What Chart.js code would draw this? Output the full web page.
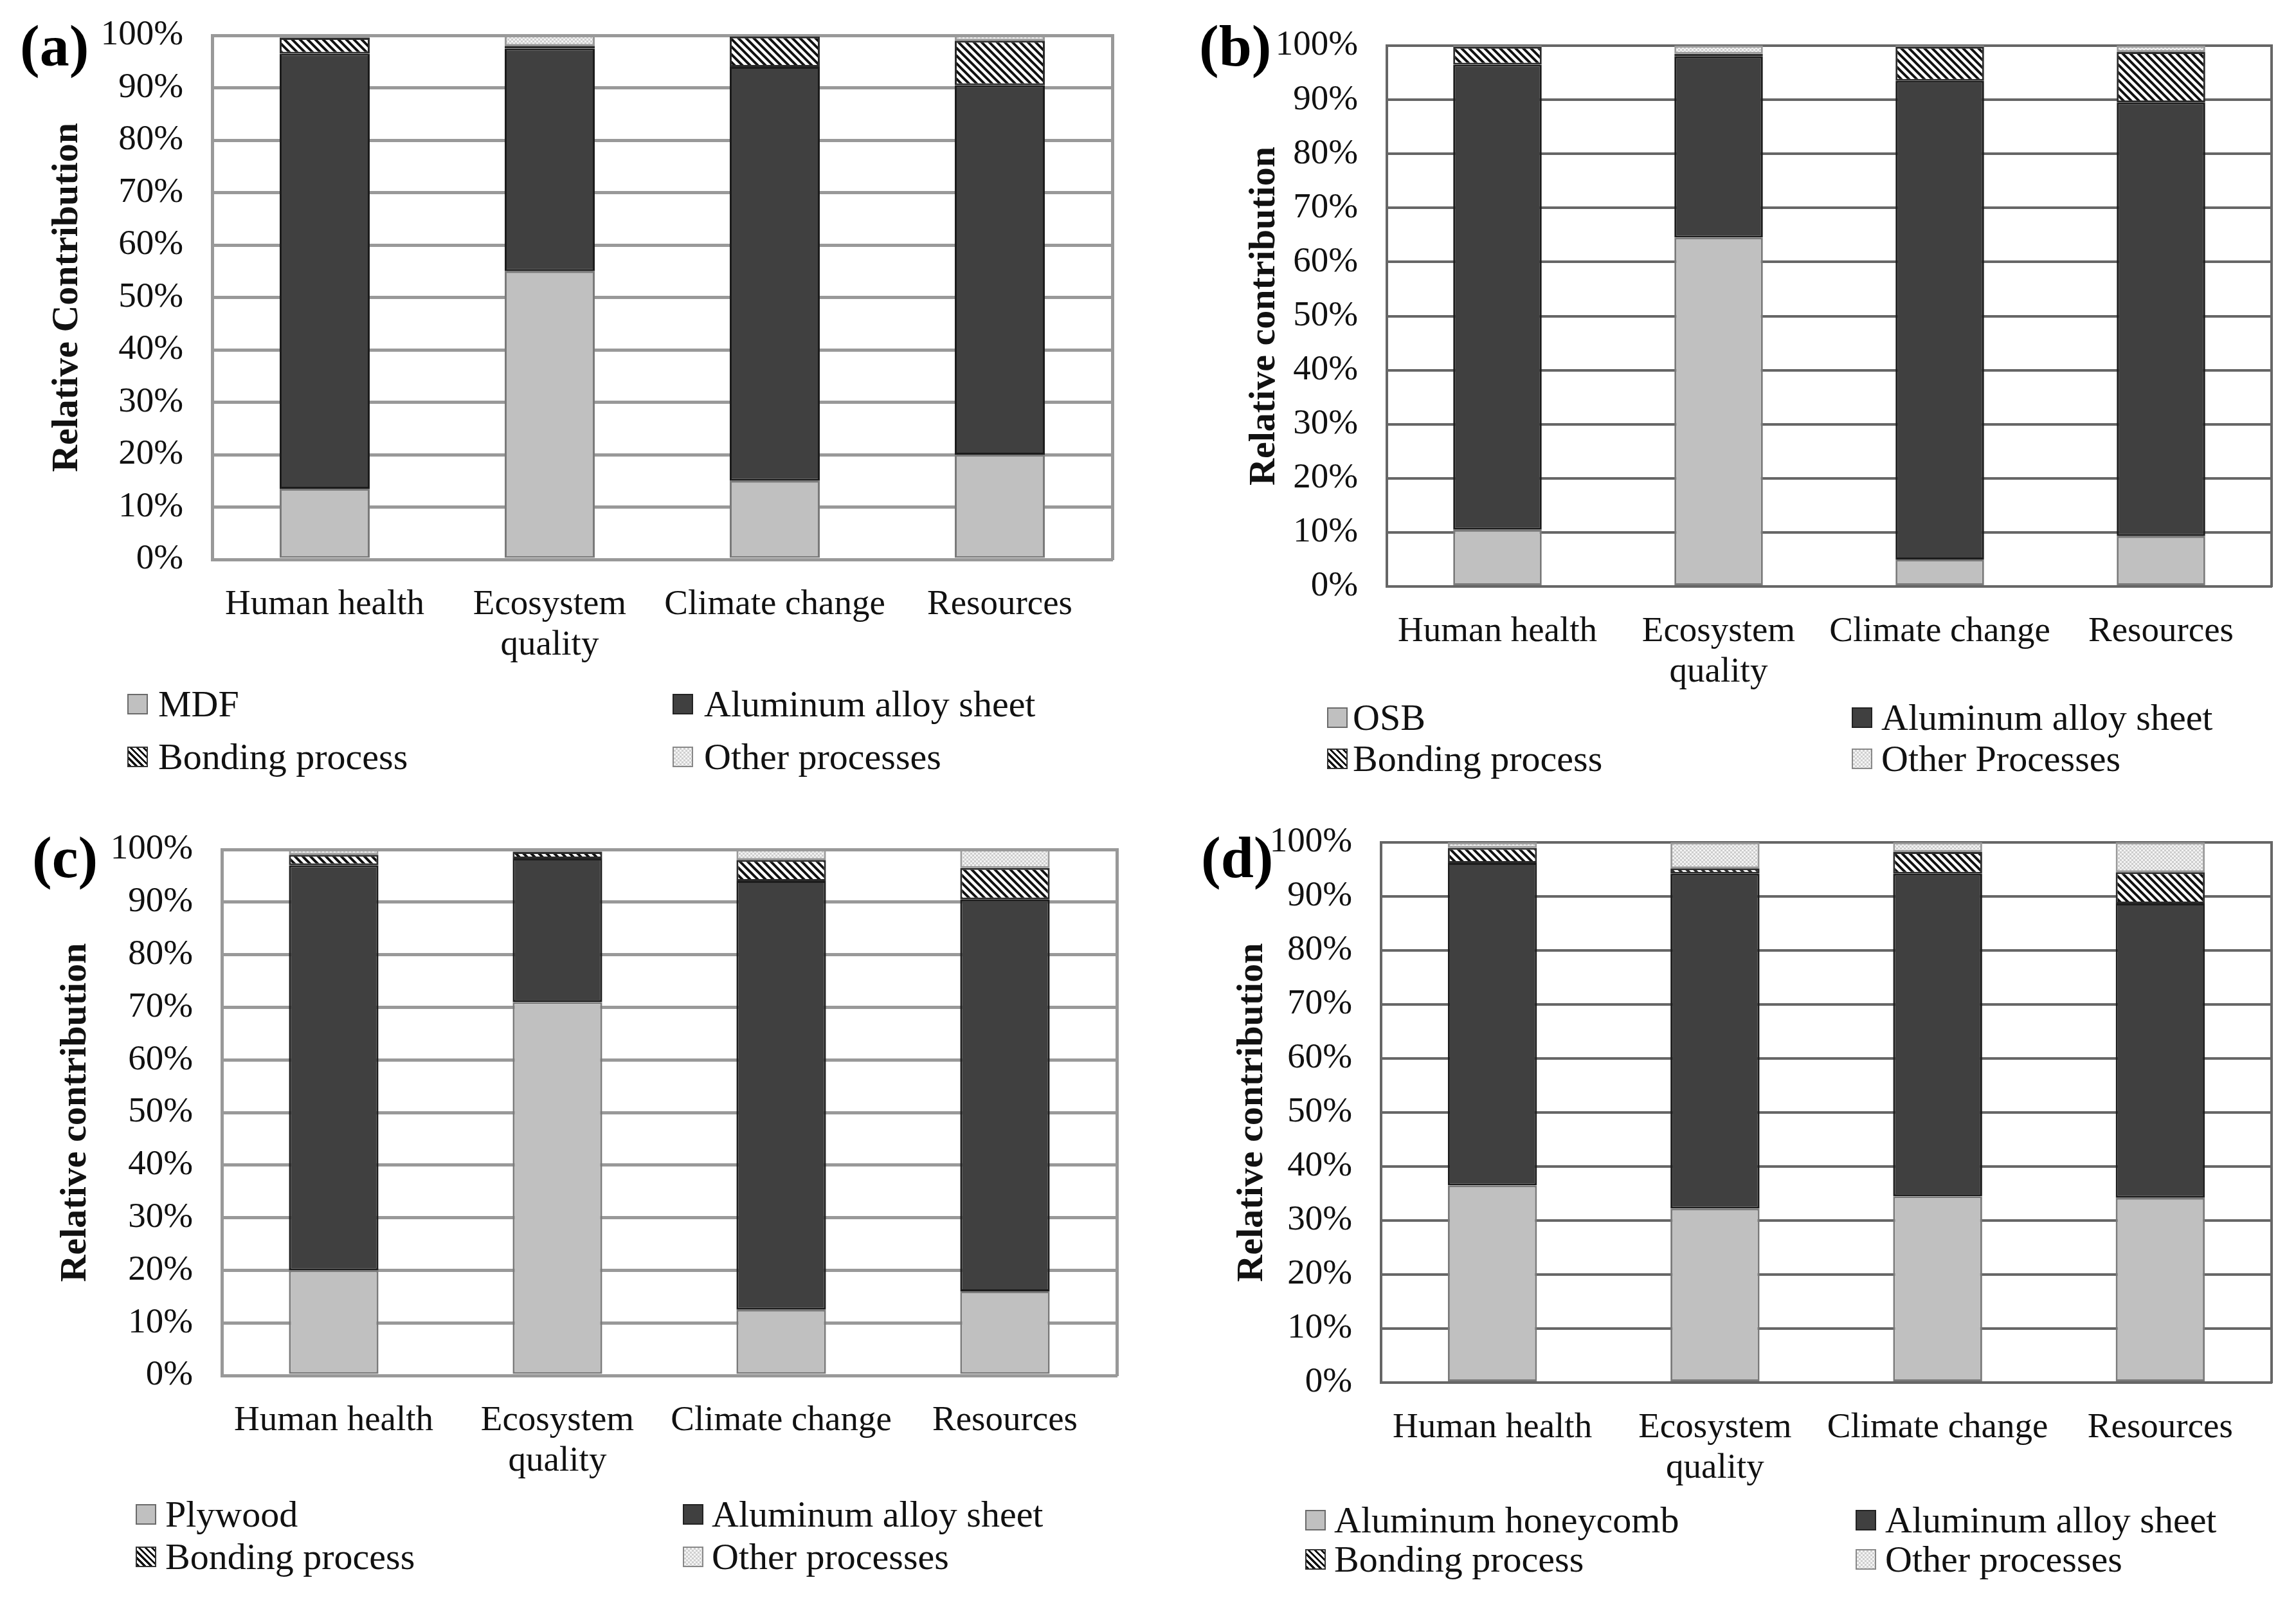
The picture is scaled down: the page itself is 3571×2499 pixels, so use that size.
<!DOCTYPE html>
<html><head><meta charset="utf-8">
<script src="https://cdn.jsdelivr.net/npm/chart.js@4.4.0/dist/chart.umd.min.js"></script>
<style>
html,body{margin:0;padding:0;background:#fff;}
body{width:3571px;height:2499px;position:relative;overflow:hidden;font-family:"Liberation Serif","Times New Roman",serif;color:#111;}
canvas{position:absolute;}
.plabel{position:absolute;font-weight:bold;font-size:92px;line-height:92px;color:#000;}
.leg{position:absolute;display:flex;align-items:center;font-size:58px;line-height:66px;height:66px;white-space:nowrap;color:#111;}
.sw{width:32px;height:32px;border:2px solid #6a6a6a;box-sizing:border-box;flex:none;}
.sw.wood{background:#c0c0c0;}
.sw.alu{background:#404040;border-color:#222;}
.sw.bond{background:repeating-linear-gradient(45deg,#111 0 3px,#fff 3px 7px);border-color:#333;}
.sw.other{background-color:#f0f0f0;background-image:repeating-conic-gradient(#cfcfcf 0 25%,#f4f4f4 0 50%);background-size:6px 6px;border-color:#888;}
</style>
</head><body>
<script>
// ---------- DATA ----------
const categories = ['Human health', ['Ecosystem', 'quality'], 'Climate change', 'Resources'];
const yTickStep = 10;

// Panel (a)
const a_names = ['MDF', 'Aluminum alloy sheet', 'Bonding process', 'Other processes'];
const a_wood  = [13.5, 55.0, 15.0, 20.0];
const a_alu   = [83.0, 42.5, 79.0, 70.5];
const a_bond  = [3.0, 0.5, 5.8, 8.5];
const a_other = [0.5, 2.0, 0.2, 1.0];

// Panel (b)
const b_names = ['OSB', 'Aluminum alloy sheet', 'Bonding process', 'Other Processes'];
const b_wood  = [10.5, 64.5, 5.0, 9.3];
const b_alu   = [86.0, 33.5, 88.5, 80.2];
const b_bond  = [3.3, 0.5, 6.3, 9.3];
const b_other = [0.2, 1.5, 0.2, 1.2];

// Panel (c)
const c_names = ['Plywood', 'Aluminum alloy sheet', 'Bonding process', 'Other processes'];
const c_wood  = [20.0, 71.0, 12.5, 16.0];
const c_alu   = [77.0, 27.3, 81.5, 74.5];
const c_bond  = [2.0, 1.2, 4.0, 6.0];
const c_other = [1.0, 0.5, 2.0, 3.5];

// Panel (d)
const d_names = ['Aluminum honeycomb', 'Aluminum alloy sheet', 'Bonding process', 'Other processes'];
const d_wood  = [36.5, 32.2, 34.5, 34.2];
const d_alu   = [59.7, 62.0, 59.7, 54.5];
const d_bond  = [2.8, 1.0, 4.0, 5.8];
const d_other = [1.0, 4.8, 1.8, 5.5];

const panelLetters = ['(a)', '(b)', '(c)', '(d)'];
const yTitles = ['Relative Contribution', 'Relative contribution', 'Relative contribution', 'Relative contribution'];

// ---------- PATTERNS ----------
function hatchPattern() {
  const s = 12, c = document.createElement('canvas'); c.width = s; c.height = s;
  const g = c.getContext('2d');
  g.fillStyle = '#fff'; g.fillRect(0, 0, s, s);
  g.strokeStyle = '#111'; g.lineWidth = 4;
  g.beginPath();
  g.moveTo(-s, -s); g.lineTo(2 * s, 2 * s);
  g.moveTo(-s, 0); g.lineTo(s, 2 * s);
  g.moveTo(0, -s); g.lineTo(2 * s, s);
  g.stroke();
  return g.createPattern(c, 'repeat');
}
function dotPattern() {
  const s = 6, c = document.createElement('canvas'); c.width = s; c.height = s;
  const g = c.getContext('2d');
  g.fillStyle = '#f3f3f3'; g.fillRect(0, 0, s, s);
  g.fillStyle = '#cdcdcd'; g.fillRect(0, 0, 3, 3); g.fillRect(3, 3, 3, 3);
  return g.createPattern(c, 'repeat');
}

// ---------- LAYOUT ----------
const panels = [
  {names: a_names, data: [a_wood, a_alu, a_bond, a_other],
   cx: 0, cw: 1785, plot: {l: 330, t: 55, r: 1730, b: 870}, titleX: 105,
   grid: '#999999', gw: 5, letter: {x: 31, y: 25},
   leg: {c1: 198, t1: 246, c2: 1046, t2: 1095, r1: 1095, r2: 1177}},
  {names: b_names, data: [b_wood, b_alu, b_bond, b_other],
   cx: 1785, cw: 1786, plot: {l: 2157, t: 71, r: 3533, b: 912}, titleX: 1967,
   grid: '#666666', gw: 4, letter: {x: 1865, y: 25},
   leg: {c1: 2064, t1: 2104, c2: 2880, t2: 2926, r1: 1116, r2: 1180}},
  {names: c_names, data: [c_wood, c_alu, c_bond, c_other],
   cx: 0, cw: 1785, plot: {l: 345, t: 1321, r: 1737, b: 2139}, titleX: 118,
   grid: '#999999', gw: 5, letter: {x: 50, y: 1287},
   leg: {c1: 211, t1: 257, c2: 1062, t2: 1107, r1: 2355, r2: 2421}},
  {names: d_names, data: [d_wood, d_alu, d_bond, d_other],
   cx: 1785, cw: 1786, plot: {l: 2148, t: 1310, r: 3533, b: 2150}, titleX: 1948,
   grid: '#666666', gw: 4, letter: {x: 1868, y: 1287},
   leg: {c1: 2030, t1: 2075, c2: 2886, t2: 2932, r1: 2364, r2: 2425}}
];

const FONT = '"Liberation Serif", "Times New Roman", serif';
const swClasses = ['wood', 'alu', 'bond', 'other'];

panels.forEach((p, i) => {
  const topRoom = 100, xHeight = 200, botRoom = 30;
  const cy = p.plot.t - topRoom;
  const ch = p.plot.b + xHeight + botRoom - cy;
  const cv = document.createElement('canvas');
  cv.width = p.cw; cv.height = ch;
  cv.style.left = p.cx + 'px'; cv.style.top = cy + 'px';
  cv.style.width = p.cw + 'px'; cv.style.height = ch + 'px';
  document.body.appendChild(cv);

  const titleFont = 58, titleLH = 1.2;
  const padLeft = p.titleX - titleFont * titleLH / 2 - p.cx;
  const yWidth = p.plot.l - p.cx - padLeft;
  const padRight = p.cx + p.cw - p.plot.r;

  const fills = ['#c0c0c0', '#404040', hatchPattern(), dotPattern()];
  const borders = ['#7a7a7a', '#1c1c1c', '#2a2a2a', '#9a9a9a'];

  new Chart(cv, {
    type: 'bar',
    data: {
      labels: categories,
      datasets: p.data.map((vals, k) => ({
        label: p.names[k], data: vals,
        backgroundColor: fills[k], borderColor: borders[k], borderWidth: 3,
        barPercentage: 0.4, categoryPercentage: 1.0, borderSkipped: false
      }))
    },
    options: {
      responsive: false, animation: false, devicePixelRatio: 1,
      layout: {padding: {left: padLeft, top: topRoom, right: padRight, bottom: botRoom}},
      plugins: {legend: {display: false}, tooltip: {enabled: false}},
      scales: {
        x: {
          stacked: true,
          grid: {display: false},
          border: {display: true, color: p.grid, width: p.gw},
          ticks: {color: '#111', padding: 31, maxRotation: 0, autoSkip: false,
                  font: {family: FONT, size: 55, lineHeight: 1.15}},
          afterFit: s => { s.height = xHeight; }
        },
        y: {
          stacked: true, min: 0, max: 100,
          grid: {color: p.grid, lineWidth: p.gw, drawTicks: false},
          border: {display: true, color: p.grid, width: p.gw},
          ticks: {stepSize: yTickStep, color: '#111', padding: 45,
                  font: {family: FONT, size: 55}, callback: v => v + '%'},
          title: {display: true, text: yTitles[i], color: '#111', padding: 0,
                  font: {family: FONT, size: titleFont, weight: 'bold', lineHeight: titleLH}},
          afterFit: s => { s.width = yWidth; }
        },
        yr: {
          position: 'right', min: 0, max: 100,
          grid: {display: false},
          border: {display: true, color: p.grid, width: p.gw},
          ticks: {display: false},
          afterFit: s => { s.width = 0; }
        }
      }
    }
  });

  // panel letter
  const L = document.createElement('div');
  L.className = 'plabel'; L.textContent = panelLetters[i];
  L.style.left = p.letter.x + 'px'; L.style.top = p.letter.y + 'px';
  document.body.appendChild(L);

  // legend (2 x 2)
  const pos = [
    {bx: p.leg.c1, tx: p.leg.t1, ry: p.leg.r1},
    {bx: p.leg.c2, tx: p.leg.t2, ry: p.leg.r1},
    {bx: p.leg.c1, tx: p.leg.t1, ry: p.leg.r2},
    {bx: p.leg.c2, tx: p.leg.t2, ry: p.leg.r2}
  ];
  p.names.forEach((nm, k) => {
    const it = document.createElement('div');
    it.className = 'leg';
    it.style.left = pos[k].bx + 'px'; it.style.top = (pos[k].ry - 33) + 'px';
    const sw = document.createElement('span');
    sw.className = 'sw ' + swClasses[k];
    sw.style.marginRight = (pos[k].tx - pos[k].bx - 32) + 'px';
    const tx = document.createElement('span'); tx.textContent = nm;
    it.appendChild(sw); it.appendChild(tx);
    document.body.appendChild(it);
  });
});
</script>
</body></html>
